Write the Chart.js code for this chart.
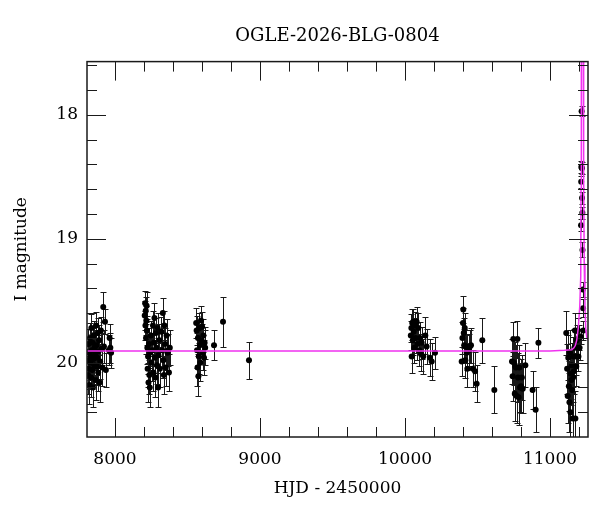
<!DOCTYPE html>
<html>
<head>
<meta charset="utf-8">
<script src="https://cdn.jsdelivr.net/npm/chart.js@4.4.1/dist/chart.umd.min.js"></script>
<style>
  html, body { margin: 0; padding: 0; background: #fff; }
</style>
</head>
<body>
<canvas id="lc" width="600" height="512"></canvas>
<script>
// photometry rows: [HJD - 2450000, I mag, error]
const season2017 = [
  [7812,19.98,.14],[7814,20.10,.15],[7817,19.85,.12],[7819,20.05,.16],[7822,19.92,.13],
  [7824,20.18,.15],[7827,19.80,.12],[7829,20.00,.14],[7832,19.95,.13],[7835,20.12,.16],
  [7837,19.72,.11],[7840,19.90,.13],[7843,20.06,.15],[7846,19.84,.12],[7848,20.20,.16],
  [7851,19.97,.14],[7854,19.78,.12],[7857,20.02,.15],[7860,19.88,.13],[7863,19.93,.13],
  [7866,20.14,.16],[7869,19.70,.11],[7872,19.86,.12],[7875,20.03,.15],[7878,19.96,.14],
  [7881,19.76,.12],[7884,20.08,.15],[7887,19.91,.13],[7890,19.82,.12],[7894,20.16,.16],
  [7898,19.99,.14],[7903,19.74,.11],[7908,19.89,.13],[7913,20.04,.15],[7919,19.55,.12],
  [7924,19.87,.13],[7931,19.67,.10],[7937,20.06,.14],[7958,19.90,.12],[7963,19.80,.11],
  [7968,19.88,.12],[7973,19.92,.12]
];
const season2018 = [
  [8205,19.62,.12],[8208,19.52,.10],[8210,19.70,.12],[8212,19.58,.11],[8214,19.80,.13],
  [8216,19.66,.12],[8218,19.54,.11],[8220,19.74,.12],[8223,19.88,.13],[8225,20.05,.15],
  [8228,19.95,.14],[8231,20.16,.16],[8234,19.85,.13],[8237,20.10,.15],[8240,20.20,.16],
  [8243,19.92,.14],[8247,19.78,.12],[8252,20.00,.15],[8258,19.90,.13],[8262,19.70,.12],
  [8265,20.08,.15],[8268,19.84,.13],[8272,19.64,.12],[8275,19.96,.14],[8278,20.12,.16],
  [8282,19.76,.12],[8285,19.88,.13],[8290,20.02,.15],[8294,19.72,.12],[8297,20.20,.16],
  [8300,19.94,.14],[8305,19.82,.13],[8310,20.05,.15],[8320,19.75,.12],[8326,19.90,.14],
  [8330,19.60,.12],[8333,19.98,.14],[8337,20.10,.15],[8341,19.70,.12],[8345,19.85,.13],
  [8350,20.04,.15],[8356,19.78,.13],[8362,19.92,.14],[8366,19.90,.13],[8372,20.08,.15],
  [8378,19.88,.14]
];
const season2019 = [
  [8560,19.68,.12],[8563,19.74,.12],[8566,19.90,.14],[8569,20.04,.15],[8572,19.80,.13],
  [8575,20.11,.16],[8578,19.95,.14],[8582,19.72,.12],[8585,19.86,.13],[8589,20.00,.15],
  [8593,19.66,.12],[8597,19.82,.13],[8601,19.71,.12],[8605,19.92,.14],[8610,19.78,.13],
  [8614,19.96,.14],[8618,19.84,.13],[8622,19.88,.14],
  [8683,19.86,.12],[8745,19.67,.20],[8924,19.98,.15]
];
const season2023 = [
  [10040,19.78,.12],[10044,19.72,.11],[10046,19.95,.13],[10050,19.68,.11],[10054,19.82,.12],
  [10057,19.67,.10],[10060,19.75,.11],[10064,19.88,.12],[10068,19.70,.11],[10073,19.80,.12],
  [10080,19.67,.12],[10086,19.85,.13],[10092,19.72,.12],[10098,19.90,.13],[10103,19.80,.13],
  [10110,19.93,.14],[10115,19.84,.13],[10126,19.95,.14],[10140,19.78,.15],[10149,19.87,.14],
  [10172,19.96,.15],[10184,19.99,.15],[10207,19.92,.13]
];
const season2024 = [
  [10391,19.99,.12],[10396,19.80,.13],[10400,19.68,.12],[10402,19.57,.11],[10405,19.76,.12],
  [10408,19.86,.13],[10412,19.72,.12],[10416,19.98,.14],[10420,19.87,.13],[10425,19.92,.14],
  [10430,20.05,.15],[10440,19.90,.13],[10448,19.87,.13],[10455,19.86,.14],[10468,20.05,.15],
  [10483,20.07,.16],[10494,20.17,.15],[10533,19.82,.18],[10616,20.22,.19]
];
const season2025 = [
  [10738,19.99,.18],[10742,20.11,.20],[10747,19.81,.14],[10752,20.00,.18],[10757,20.25,.22],
  [10761,20.03,.20],[10765,20.04,.18],[10770,20.27,.22],[10775,19.81,.15],[10779,20.12,.20],
  [10783,20.28,.22],[10788,20.04,.18],[10793,20.20,.20],[10800,20.19,.22],[10806,20.12,.18],
  [10812,20.21,.20],[10830,20.02,.18],[10880,20.22,.15],[10901,20.38,.18],[10920,19.84,.12]
];
const season2026 = [
  [11112,19.76,.18],[11118,20.05,.20],[11122,20.27,.22],[11126,19.96,.18],[11130,20.19,.20],
  [11134,20.32,.24],[11138,19.92,.18],[11141,20.40,.25],[11144,20.09,.20],[11147,20.14,.20],
  [11150,20.02,.18],[11153,20.22,.22],[11156,20.45,.25],[11159,20.12,.20],[11162,19.95,.16],
  [11165,20.07,.18],[11168,19.88,.15],[11172,19.74,.14],[11175,20.45,.22],[11178,19.95,.15],
  [11181,20.03,.16],[11184,19.82,.12],[11188,19.88,.12],[11192,19.74,.10],[11196,19.95,.12],
  [11200,19.80,.10],[11204,19.88,.10],
  [11212,19.79,.06],[11214,18.89,.05],[11215,18.54,.05],[11216,18.42,.05],[11218,17.97,.04],
  [11220,18.43,.05],[11221,18.67,.05],[11223,18.79,.05],[11224,19.09,.06],[11226,19.41,.06],
  [11228,19.56,.07],[11230,19.74,.08]
];

// microlensing model curve: [HJD - 2450000, I mag]
const modelCurve = [
  [7800,19.905],[11000,19.905],[11100,19.900],[11150,19.895],[11165,19.880],[11175,19.860],
  [11184,19.820],[11195,19.720],[11205,19.550],[11212,19.300],[11214,18.600],[11216,17.500],
  [11222,16.900],[11229,17.500],[11232,18.500],[11236,19.200],[11241,19.550],[11247,19.740],
  [11255,19.800],[11270,19.830]
];

const xRange = [7807, 11262];
const yRange = [17.57, 20.60];
const xStep = 200, xLabelEvery = 1000;
const yStep = 0.2;

const photometry = [].concat(season2017, season2018, season2019, season2023,
                             season2024, season2025, season2026);

const serif = "'DejaVu Serif', 'Liberation Serif', serif";

const errorBars = {
  id: 'errorBars',
  beforeDatasetsDraw(chart) {
    const {ctx, chartArea: a, scales: {x, y}} = chart;
    ctx.save();
    ctx.beginPath();
    ctx.rect(a.left, a.top, a.width, a.height);
    ctx.clip();
    ctx.strokeStyle = '#1a1a1a';
    ctx.lineWidth = 1;
    ctx.beginPath();
    photometry.forEach(([t, m, e]) => {
      const px = Math.round(x.getPixelForValue(t)) + 0.5;
      const y1 = Math.round(y.getPixelForValue(m - e)) + 0.5;
      const y2 = Math.round(y.getPixelForValue(m + e)) + 0.5;
      ctx.moveTo(px, y1); ctx.lineTo(px, y2);
      ctx.moveTo(px - 3, y1); ctx.lineTo(px + 3, y1);
      ctx.moveTo(px - 3, y2); ctx.lineTo(px + 3, y2);
    });
    ctx.stroke();
    ctx.restore();
  }
};

const isMultiple = (v, s) => Math.abs(v / s - Math.round(v / s)) < 1e-6;

const frame = {
  id: 'frame',
  afterDraw(chart) {
    const {ctx, chartArea: a, scales: {x, y}} = chart;
    ctx.save();
    ctx.strokeStyle = '#1a1a1a';
    ctx.lineWidth = 1;
    ctx.beginPath();
    x.ticks.forEach(t => {
      if (!isMultiple(t.value, xStep)) return;
      const px = Math.round(x.getPixelForValue(t.value)) + 0.5;
      if (px <= a.left + 1 || px >= a.right - 1) return;
      const len = isMultiple(t.value, xLabelEvery) ? 19 : 10;
      ctx.moveTo(px, a.bottom); ctx.lineTo(px, a.bottom - len);
      ctx.moveTo(px, a.top); ctx.lineTo(px, a.top + len);
    });
    y.ticks.forEach(t => {
      if (!isMultiple(t.value, yStep)) return;
      const py = Math.round(y.getPixelForValue(t.value)) + 0.5;
      if (py <= a.top + 1 || py >= a.bottom - 1) return;
      const len = isMultiple(t.value, 1) ? 19 : 10;
      ctx.moveTo(a.left, py); ctx.lineTo(a.left + len, py);
      ctx.moveTo(a.right, py); ctx.lineTo(a.right - len, py);
    });
    ctx.stroke();
    ctx.lineWidth = 1.5;
    ctx.strokeRect(a.left, a.top, a.width, a.height);
    ctx.restore();
  }
};

new Chart(document.getElementById('lc'), {
  type: 'scatter',
  data: {
    datasets: [
      {
        label: 'model',
        data: modelCurve.map(([t, m]) => ({x: t, y: m})),
        showLine: true,
        borderColor: '#f032f0',
        borderWidth: 1.5,
        pointRadius: 0,
        tension: 0
      },
      {
        label: 'OGLE',
        data: photometry.map(([t, m]) => ({x: t, y: m})),
        pointRadius: 3,
        pointBackgroundColor: '#000',
        pointBorderColor: '#000',
        pointBorderWidth: 0
      }
    ]
  },
  options: {
    responsive: false,
    animation: false,
    layout: { padding: { top: 0, right: 12, bottom: 0, left: 0 } },
    plugins: {
      legend: { display: false },
      tooltip: { enabled: false },
      title: {
        display: true,
        text: 'OGLE-2026-BLG-0804',
        fullSize: false,
        color: '#000',
        font: { family: serif, size: 18, weight: 'normal' },
        padding: { top: 26, bottom: 14 }
      }
    },
    scales: {
      x: {
        type: 'linear',
        min: xRange[0],
        max: xRange[1],
        grid: { display: false, drawTicks: false },
        border: { display: false },
        ticks: {
          stepSize: xStep,
          includeBounds: false,
          autoSkip: false,
          maxRotation: 0,
          padding: 12,
          color: '#000',
          font: { family: serif, size: 17 },
          callback: v => isMultiple(v, xLabelEvery) ? String(Math.round(v)) : ''
        },
        title: {
          display: true,
          text: 'HJD - 2450000',
          color: '#000',
          font: { family: serif, size: 17 },
          padding: { top: 0, bottom: 13 }
        },
        afterFit: s => { s.height = 75; }
      },
      y: {
        type: 'linear',
        reverse: true,
        min: yRange[0],
        max: yRange[1],
        grid: { display: false, drawTicks: false },
        border: { display: false },
        ticks: {
          stepSize: yStep,
          includeBounds: false,
          autoSkip: false,
          padding: 9,
          color: '#000',
          font: { family: serif, size: 17 },
          callback: v => isMultiple(v, 1) ? String(Math.round(v)) : ''
        },
        title: {
          display: true,
          text: 'I magnitude',
          color: '#000',
          font: { family: serif, size: 17 },
          padding: { top: 11, bottom: 0 }
        },
        afterFit: s => { s.width = 87; }
      }
    }
  },
  plugins: [errorBars, frame]
});
</script>
</body>
</html>
